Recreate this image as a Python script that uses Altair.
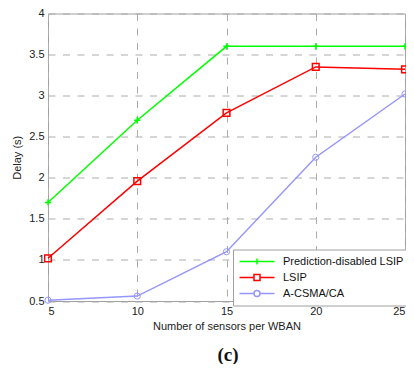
import altair as alt
import pandas as pd

sensors = [5, 10, 15, 20, 25]
pred_disabled = [1.70, 2.70, 3.60, 3.60, 3.60]
lsip = [1.02, 1.96, 2.79, 3.35, 3.32]
acsma = [0.51, 0.56, 1.10, 2.25, 3.02]
series_names = ["Prediction-disabled LSIP", "LSIP", "A-CSMA/CA"]
colors = ["#00ff00", "#ff0000", "#9696ff"]
widths = [1.5, 1.5, 1.0]
y_ticks = [0.5, 1, 1.5, 2, 2.5, 3, 3.5, 4]

rows = []
for name, vals in zip(series_names, [pred_disabled, lsip, acsma]):
    for s, v in zip(sensors, vals):
        rows.append({"sensors": s, "delay": v, "series": name})
df = pd.DataFrame(rows)

FONT = "Liberation Sans"
GRID = "#acacac"

x = alt.X("sensors:Q", scale=alt.Scale(domain=[5, 25], nice=False),
          axis=alt.Axis(values=sensors, title="Number of sensors per WBAN",
                        labelPadding=4, titlePadding=4))
y = alt.Y("delay:Q", scale=alt.Scale(domain=[0.5, 4], nice=False, zero=False),
          axis=alt.Axis(values=y_ticks, format="~g", title="Delay (s)",
                        labelPadding=4, titlePadding=6))
color_scale = alt.Scale(domain=series_names, range=colors)

legend_paths = [
    "M-3.5,0H3.5M0,-0.6V0.6",
    "M-3.5,0H-0.6M0.6,0H3.5M-0.6,-0.6H0.6V0.6H-0.6Z",
    "M-3.5,0H-0.6M0.6,0H3.5M0.6,0A0.6,0.6,0,1,1,-0.6,0A0.6,0.6,0,1,1,0.6,0",
]
leg = alt.Legend(title=None, orient="none", legendX=185, legendY=236, strokeColor="#a0a0a0",
                 fillColor="white", padding=6, labelFont=FONT, labelFontSize=11, labelColor="#111",
                 symbolSize=100, symbolStrokeWidth=1.3, symbolOffset=12, labelOffset=20,
                 rowPadding=4, cornerRadius=0)

base = alt.Chart(df)

lines = base.mark_line().encode(
    x=x, y=y,
    color=alt.Color("series:N", scale=color_scale, legend=leg),
    strokeWidth=alt.StrokeWidth("series:O", scale=alt.Scale(domain=series_names, range=widths), legend=None),
)

marker_shapes = ["M-1,0H1M0,-1V1", "square", "circle"]
marker_sizes = [40, 45, 38]
points = []
for name, shp, sz, w in zip(series_names, marker_shapes, marker_sizes, widths):
    points.append(
        base.transform_filter(alt.datum.series == name)
        .mark_point(shape=shp, filled=False, size=sz, strokeWidth=w, opacity=1)
        .encode(x=x, y=y, color=alt.Color("series:N", scale=color_scale, legend=leg))
    )

legend_layer = base.transform_filter("false").mark_point(filled=False, opacity=1, size=100).encode(
    x=x, y=y,
    color=alt.Color("series:N", scale=color_scale, legend=leg),
    shape=alt.Shape("series:N", scale=alt.Scale(domain=series_names, range=legend_paths), legend=leg),
)

chart = alt.layer(lines, *points, legend_layer).properties(
    width=357, height=287.5,
    padding={"left": 40, "top": 5.5, "right": 1, "bottom": 63},
    autosize=alt.AutoSizeParams(type="none"),
    title=alt.TitleParams("(c)", orient="bottom", font="Liberation Serif", fontSize=19,
                          fontWeight="bold", color="#111", offset=15, dx=1.5),
).configure_view(stroke="#a0a0a0", strokeWidth=1).configure_axis(
    grid=True, gridDash=[7, 7.5], gridColor=GRID, gridWidth=1, domain=False, ticks=False,
    labelFont=FONT, labelFontSize=11, labelColor="#222",
    titleFont=FONT, titleFontSize=11, titleFontWeight="normal", titleColor="#222",
)

chart.save("out.html", embed_options={"renderer": "svg", "actions": False})
